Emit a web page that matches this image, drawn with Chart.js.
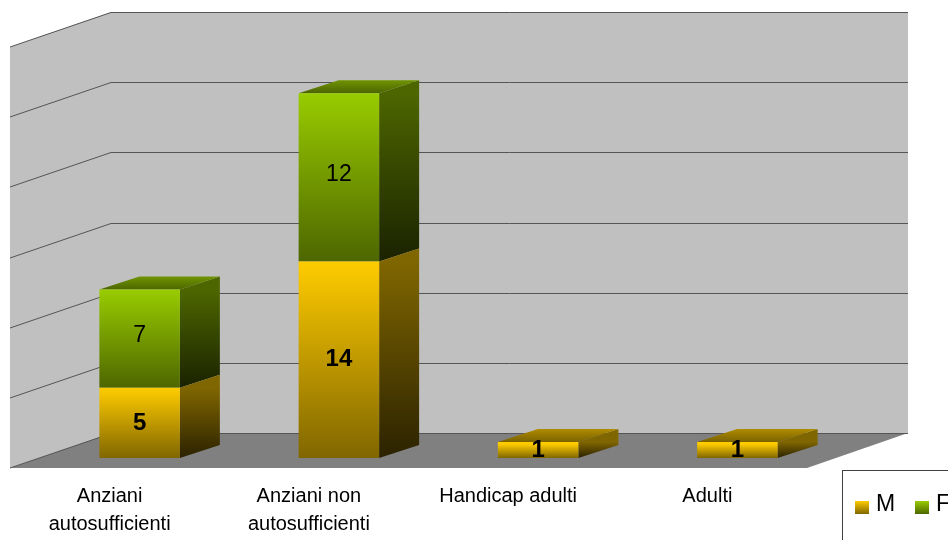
<!DOCTYPE html>
<html>
<head>
<meta charset="utf-8">
<script src="https://cdn.jsdelivr.net/npm/chart.js@4"></script>
<style>
  html, body { margin: 0; padding: 0; background: #fff; overflow: hidden; }
  #wrap { width: 948px; height: 540px; }
</style>
</head>
<body>
<div id="wrap"><canvas id="myChart" width="948" height="540"></canvas></div>
<script>
const categories = [['Anziani', 'autosufficienti'], ['Anziani non', 'autosufficienti'], 'Handicap adulti', 'Adulti'];
const valuesM = [5, 14, 1, 1];
const valuesF = [7, 12, 0, 0];
const seriesNames = ['M', 'F'];
const yTicks = [0, 5, 10, 15, 20, 25, 30];

const fontName = '"Liberation Sans", Arial, sans-serif';

// 3d look: [front top, front bottom, side top, side bottom, lid back, lid front]
const shadesM = ['#ffcc00', '#806600', '#806600', '#2b2200', '#b08c00', '#7a6200'];
const shadesF = ['#99cc00', '#4d6600', '#4d6600', '#1a2200', '#6f9400', '#4d6600'];

const wallOffset = { x: 101, y: -35 };
const barShift = { x: 30, y: -10 };
const barDepth = { x: 40, y: -13 };

function frontGradient(context, values, below, shades) {
  const i = context.dataIndex;
  if (i === undefined) return shades[0];
  const chart = context.chart;
  const start = below ? below[i] : 0;
  const top = chart.scales.y.getPixelForValue(start + values[i]);
  const bottom = chart.scales.y.getPixelForValue(start);
  // scales are not laid out yet on the first pass
  if (!Number.isFinite(top) || !Number.isFinite(bottom)) return shades[0];
  const g = chart.ctx.createLinearGradient(0, top, 0, bottom);
  g.addColorStop(0, shades[0]);
  g.addColorStop(1, shades[1]);
  return g;
}

function poly(ctx, pts, fill) {
  ctx.beginPath();
  pts.forEach((p, i) => i ? ctx.lineTo(p[0], p[1]) : ctx.moveTo(p[0], p[1]));
  ctx.closePath();
  ctx.fillStyle = fill;
  ctx.fill();
}

const wallsPlugin = {
  id: 'walls',
  beforeDatasetsDraw(chart) {
    const ctx = chart.ctx;
    const a = chart.chartArea;
    const dx = wallOffset.x, dy = wallOffset.y;
    ctx.save();
    poly(ctx, [[a.left, a.top], [a.left + dx, a.top + dy], [a.right + dx, a.top + dy],
      [a.right + dx, a.bottom + dy], [a.left + dx, a.bottom + dy], [a.left, a.bottom]], '#c0c0c0');
    poly(ctx, [[a.left, a.bottom], [a.left + dx, a.bottom + dy], [a.right + dx, a.bottom + dy], [a.right, a.bottom]], '#808080');
    ctx.strokeStyle = '#555555';
    ctx.lineWidth = 1;
    yTicks.forEach(v => {
      const y = Math.round(chart.scales.y.getPixelForValue(v));
      ctx.beginPath();
      ctx.moveTo(a.left, y);
      ctx.lineTo(a.left + dx, y + dy + 0.5);
      ctx.lineTo(a.right + dx, y + dy + 0.5);
      ctx.stroke();
    });
    ctx.restore();
  },
  beforeDatasetDraw(chart, args) {
    const ctx = chart.ctx;
    const shades = args.index === 0 ? shadesM : shadesF;
    ctx.save();
    ctx.translate(barShift.x, barShift.y);
    args.meta.data.forEach((bar, i) => {
      const value = chart.data.datasets[args.index].data[i];
      if (!value) return;
      const left = bar.x - bar.width / 2, right = bar.x + bar.width / 2;
      const dx = barDepth.x, dy = barDepth.y;
      const side = ctx.createLinearGradient(0, bar.y, 0, bar.base);
      side.addColorStop(0, shades[2]);
      side.addColorStop(1, shades[3]);
      poly(ctx, [[right, bar.y], [right + dx, bar.y + dy], [right + dx, bar.base + dy], [right, bar.base]], side);
      const isTop = args.index === 1 || !chart.data.datasets[1].data[i];
      if (isTop) {
        const lid = ctx.createLinearGradient(0, bar.y + dy, 0, bar.y);
        lid.addColorStop(0, shades[4]);
        lid.addColorStop(1, shades[5]);
        poly(ctx, [[left, bar.y], [left + dx, bar.y + dy], [right + dx, bar.y + dy], [right, bar.y]], lid);
      }
    });
    ctx.restore();
    // shift the front faces drawn by the library
    ctx.save();
    ctx.translate(barShift.x, barShift.y);
  },
  afterDatasetDraw(chart) {
    chart.ctx.restore();
  },
  afterDatasetsDraw(chart) {
    const ctx = chart.ctx;
    ctx.save();
    ctx.fillStyle = '#000';
    ctx.textAlign = 'center';
    ctx.textBaseline = 'middle';
    chart.data.datasets.forEach((ds, d) => {
      ctx.font = d === 0 ? 'bold 24px ' + fontName : '23px ' + fontName;
      chart.getDatasetMeta(d).data.forEach((bar, i) => {
        if (!ds.data[i]) return;
        ctx.fillText(String(ds.data[i]), bar.x + barShift.x, (bar.y + bar.base) / 2 + barShift.y + (d === 0 ? 0 : -3));
      });
    });
    ctx.restore();
  },
  afterDraw(chart) {
    // legend box runs off the edge of the picture, like in the original
    const ctx = chart.ctx;
    ctx.save();
    ctx.fillStyle = '#fff';
    ctx.fillRect(842, 470, 120, 80);
    ctx.strokeStyle = '#404040';
    ctx.lineWidth = 1;
    ctx.strokeRect(842.5, 470.5, 130, 90);
    ctx.font = '23px ' + fontName;
    ctx.textBaseline = 'middle';
    ctx.textAlign = 'left';
    const slots = [855, 915];
    seriesNames.forEach((name, i) => {
      const shades = i === 0 ? shadesM : shadesF;
      const g = ctx.createLinearGradient(0, 501, 0, 514);
      g.addColorStop(0, shades[0]);
      g.addColorStop(1, shades[1]);
      ctx.fillStyle = g;
      ctx.fillRect(slots[i], 501, 14, 13);
      ctx.fillStyle = '#000';
      ctx.fillText(name, slots[i] + 21, 505);
    });
    ctx.restore();
  }
};

new Chart(document.getElementById('myChart'), {
  type: 'bar',
  data: {
    labels: categories,
    datasets: [
      {
        label: seriesNames[0],
        data: valuesM,
        minBarLength: 16,
        backgroundColor: c => frontGradient(c, valuesM, null, shadesM)
      },
      {
        label: seriesNames[1],
        data: valuesF,
        backgroundColor: c => frontGradient(c, valuesF, valuesM, shadesF)
      }
    ]
  },
  options: {
    responsive: false,
    animation: false,
    events: [],
    clip: false,
    categoryPercentage: 1,
    barPercentage: 0.404,
    layout: { padding: { left: 10, right: 141, top: 47, bottom: 0 } },
    plugins: { legend: { display: false }, tooltip: { enabled: false }, title: { display: false } },
    scales: {
      x: {
        stacked: true,
        grid: { display: false },
        border: { display: false },
        afterFit: scale => { scale.height = 72; },
        ticks: {
          color: '#000',
          autoSkip: false,
          maxRotation: 0,
          padding: 6,
          font: { family: fontName, size: 20, lineHeight: 1.4 }
        }
      },
      y: {
        stacked: true,
        display: false,
        min: 0,
        max: 30,
        ticks: { stepSize: 5 }
      }
    }
  },
  plugins: [wallsPlugin]
});
</script>
</body>
</html>
